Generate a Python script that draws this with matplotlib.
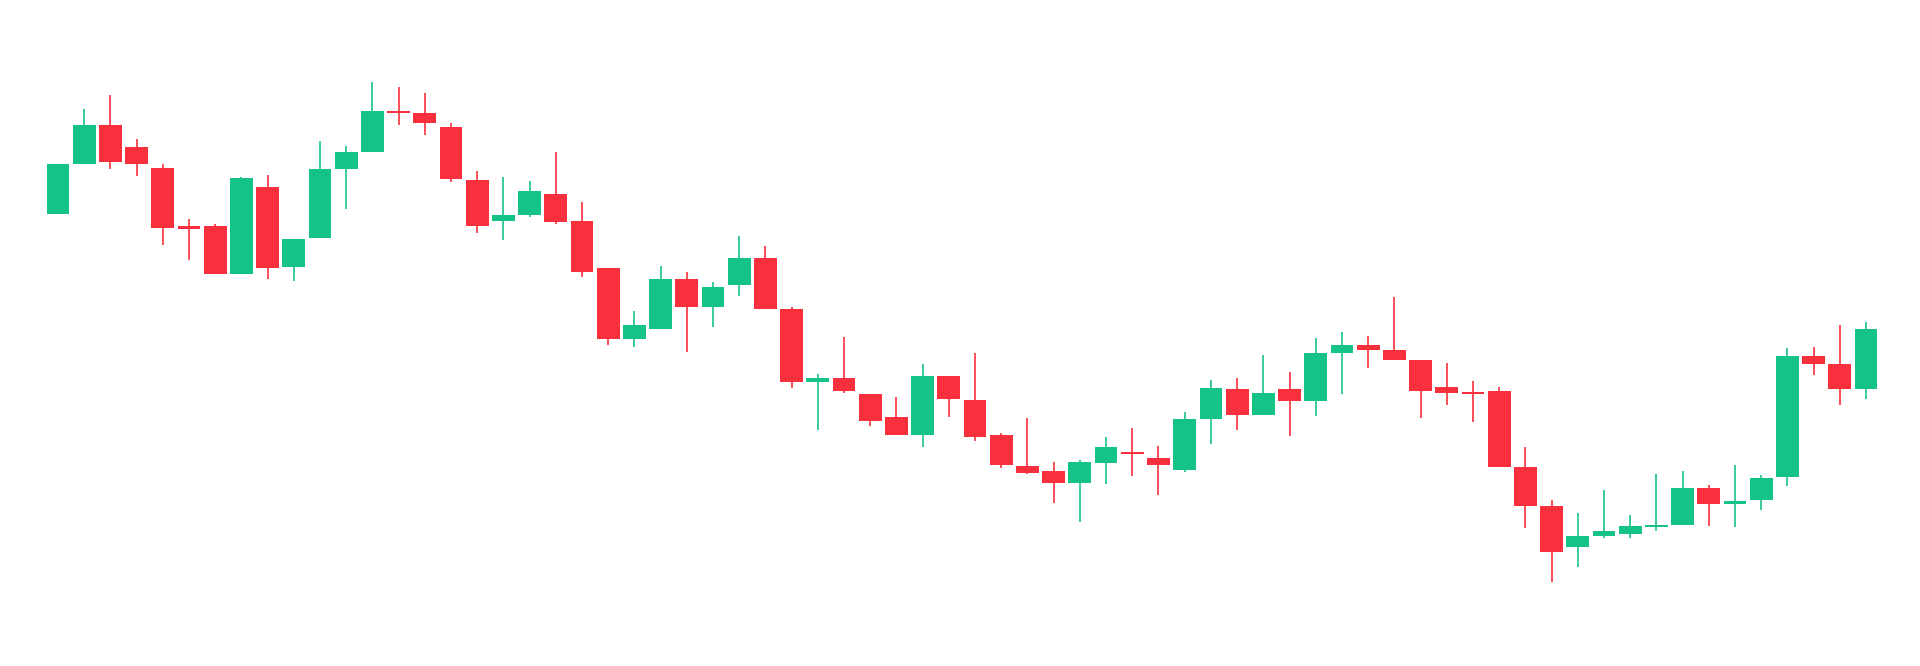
import matplotlib.pyplot as plt
import numpy as np

# OHLC values (arbitrary price units)
opens = [386, 436, 475, 453.3, 432.3, 374, 374, 326, 412.7, 333.3,
         361.7, 430.7, 448.3, 489.3, 486.7, 472.7, 419.7, 379.3, 384.7, 406,
         379, 331.7, 260.7, 271.3, 321, 292.7, 315.3, 341.7, 290.7, 218.3,
         221.7, 205.7, 182.7, 165, 223.7, 200, 164.7, 134.3, 129.3, 117.3,
         136.7, 147.7, 141.7, 129.7, 181.3, 211, 184.7, 211, 198.7, 246.7,
         255.3, 250, 239.7, 213.3, 207.7, 209.3, 133.3, 94, 53.3, 64,
         66, 73, 75, 111.7, 96, 99.7, 122.7, 244.3, 235.7, 211]
highs = [436, 490.7, 505, 461, 435.7, 380.7, 375.7, 423.3, 425, 361,
         459, 454, 518.3, 513.3, 506.7, 476.7, 429, 423.3, 418.7, 448,
         398.3, 331.7, 289.3, 334.5, 328.3, 318.3, 364, 354.3, 292.7, 226,
         262.7, 205.7, 202.7, 236, 223.7, 246.7, 166.7, 181.7, 138.3, 140,
         163.3, 172.3, 154.3, 187.7, 220, 222.3, 244.7, 228.3, 262.3, 267.7,
         264, 303.3, 239.7, 237.3, 219, 212.7, 152.7, 100, 86.7, 110,
         85, 126, 129, 115, 135, 125, 251.7, 253.3, 275, 278.3]
lows = [386, 436, 431, 424, 354.7, 340, 326, 326, 320.7, 319.3,
        361.7, 390.7, 448.3, 475, 464.7, 418, 366.7, 360, 383.3, 376,
        322.7, 255, 253.3, 271.3, 248.3, 273, 304.3, 291, 212.3, 170,
        207.3, 174, 165, 152.7, 182.7, 159, 131.7, 126, 97.3, 78.3,
        116, 124, 105, 128.3, 156, 170, 184.7, 164.3, 184.3, 205.7,
        232.3, 239.7, 182.3, 195, 178.3, 133.3, 71.7, 17.7, 33.3, 61.7,
        62.3, 69.3, 75, 74, 72.7, 90, 114, 225, 195, 200.7]
closes = [436, 474.7, 438, 436, 372.3, 370.7, 326, 421.7, 331.7, 361,
          430.7, 448, 489, 487.3, 477.3, 420.7, 374.3, 384.7, 409.3, 377.7,
          328.3, 260.7, 274.7, 320.7, 292.7, 313.3, 341.7, 291, 218.3, 221.7,
          209.3, 179, 165, 223.7, 200.7, 163.3, 135, 126.7, 117.3, 138.3,
          152.7, 145.7, 134.7, 180.7, 212.3, 184.7, 207, 199, 246.7, 255.3,
          250, 239.7, 209.3, 207.3, 206, 133.3, 94.3, 48.3, 64, 69,
          74.3, 75, 111.7, 96, 99.3, 122, 244.3, 236, 211.3, 271]

up_color = '#16c386'
down_color = '#f8303d'

o = np.array(opens)
h = np.array(highs)
l = np.array(lows)
c = np.array(closes)
x = np.arange(len(o))
colors = np.where(c >= o, up_color, down_color)

fig = plt.figure(figsize=(19.2, 6.66), dpi=100)
ax = fig.add_axes([0, 0, 1, 1])

ax.vlines(x, l, h, colors=colors, linewidth=1.2, zorder=1)
ax.bar(x, np.abs(c - o), bottom=np.minimum(o, c), width=0.87,
       color=colors, zorder=2)

ax.set_xlim(-2.21, 71.06)
ax.set_ylim(-66, 600)
ax.axis('off')

fig.savefig('out.png', dpi=100, facecolor='white')
